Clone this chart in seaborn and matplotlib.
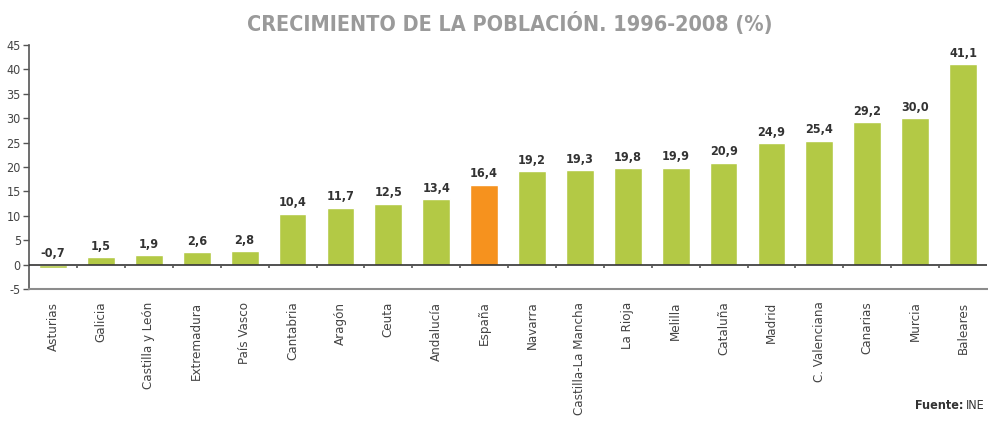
import matplotlib
matplotlib.use("Agg")
import matplotlib.pyplot as plt
import seaborn as sns
import numpy as np
import pandas as pd

categories = ["Asturias", "Galicia", "Castilla y León", "Extremadura", "País Vasco",
              "Cantabria", "Aragón", "Ceuta", "Andalucía", "España", "Navarra",
              "Castilla-La Mancha", "La Rioja", "Melilla", "Cataluña", "Madrid",
              "C. Valenciana", "Canarias", "Murcia", "Baleares"]
values = [-0.7, 1.5, 1.9, 2.6, 2.8, 10.4, 11.7, 12.5, 13.4, 16.4, 19.2,
          19.3, 19.8, 19.9, 20.9, 24.9, 25.4, 29.2, 30.0, 41.1]
highlight = "España"
title = "CRECIMIENTO DE LA POBLACIÓN. 1996-2008 (%)"
yticks = [-5, 0, 5, 10, 15, 20, 25, 30, 35, 40, 45]

GREEN = "#b3c945"
ORANGE = "#f6921e"

sns.set_theme(style="white")
plt.rcParams["font.family"] = ["DejaVu Sans"]
plt.rcParams["font.stretch"] = "condensed"

df = pd.DataFrame({"cat": categories, "val": values})
palette = {c: (ORANGE if c == highlight else GREEN) for c in categories}

fig = plt.figure(figsize=(9.88, 4.21), dpi=100)
ax = fig.add_axes([0.0295, 0.3135, 0.9695, 0.5795])
sns.barplot(data=df, x="cat", y="val", hue="cat", palette=palette, legend=False,
            width=0.58, saturation=1, ax=ax)

ax.set_xlim(-0.5, len(categories) - 0.5)
ax.set_ylim(-5, 45)
ax.set_yticks(yticks)
ax.set_yticklabels([str(t) for t in yticks], fontsize=9, color="#444444")
ax.tick_params(axis="y", length=4, width=1, color="#555555", left=True, pad=2)
ax.tick_params(axis="x", length=0, pad=9)
for lbl in ax.get_xticklabels():
    lbl.set_rotation(90)
    lbl.set_fontsize(9.5)
    lbl.set_color("#444444")
    lbl.set_va("top")
    lbl.set_ha("center")
ax.set_xlabel("")
ax.set_ylabel("")

for s in ["top", "right"]:
    ax.spines[s].set_visible(False)
ax.spines["left"].set_color("#555555")
ax.spines["left"].set_linewidth(1.2)
ax.spines["bottom"].set_color("#8c8c8c")
ax.spines["bottom"].set_linewidth(1.5)

ax.axhline(0, color="#333333", lw=1.2, zorder=3)
ax.vlines(np.arange(len(categories) - 1) + 0.5, -0.6, 0, color="#555555", lw=1.2, zorder=3)

for i, v in enumerate(values):
    y = max(v, 0) + 0.9
    ax.text(i, y, f"{v:.1f}".replace(".", ","), ha="center", va="bottom",
            fontsize=9, fontweight="bold", color="#333333")

fig.text(0.516, 0.945, title, ha="center", va="center", fontsize=15.5,
         fontweight="bold", color="#9a9a9a")
ine = fig.text(0.997, 0.022, "INE", ha="right", va="bottom", fontsize=9, color="#333333")
fig.canvas.draw()
bb = ine.get_window_extent(renderer=fig.canvas.get_renderer())
x0 = (bb.x0 - 3) / fig.bbox.width
fig.text(x0, 0.022, "Fuente:", ha="right", va="bottom", fontsize=9,
         fontweight="bold", color="#333333")

fig.savefig("out.png", dpi=100)
